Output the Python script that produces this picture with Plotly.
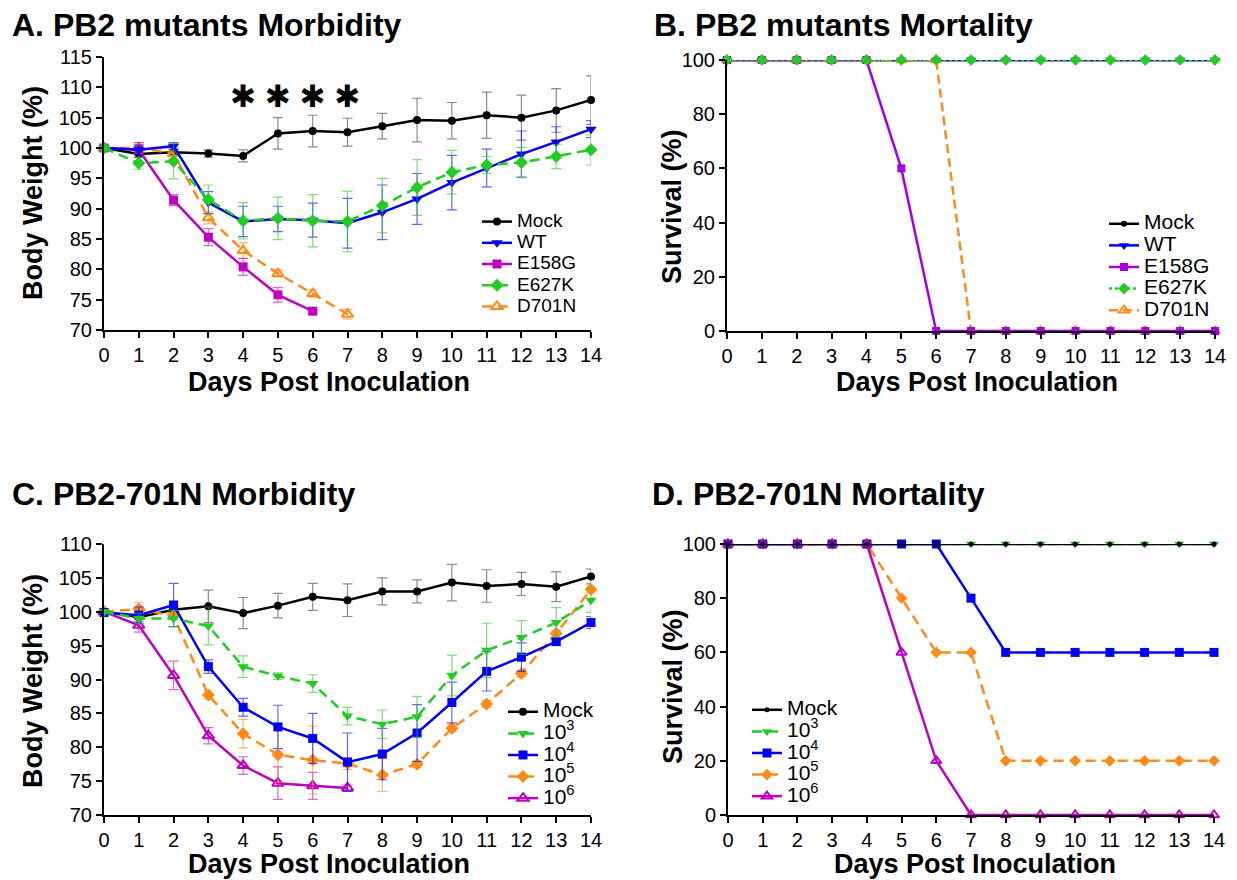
import plotly.graph_objects as go

FONT = "Liberation Sans, Arial, sans-serif"

days = [0, 1, 2, 3, 4, 5, 6, 7, 8, 9, 10, 11, 12, 13, 14]
day_ticks = ["0", "1", "2", "3", "4", "5", "6", "7", "8", "9", "10", "11", "12", "13", "14"]

# ---------- Panel A: PB2 mutants morbidity (body weight %) ----------
a_mock = [100, 99.0, 99.3, 99.1, 98.7, 102.4, 102.8, 102.6, 103.6, 104.6, 104.5, 105.4, 105.0, 106.2, 107.9]
a_mock_err = [0.3, 0.6, 0.5, 0.6, 1.0, 2.6, 2.6, 2.3, 2.1, 3.6, 3.0, 3.8, 3.7, 3.6, 4.0]
a_wt = [100, 99.7, 100.3, 91.0, 87.9, 88.3, 88.1, 87.6, 89.4, 91.6, 94.3, 96.7, 99.0, 101.0, 103.1]
a_wt_err = [0.3, 0.8, 0.6, 1.8, 2.5, 2.1, 2.8, 4.1, 4.5, 4.2, 4.5, 3.1, 3.8, 2.5, 1.4]
a_e158g = [100, 99.7, 91.4, 85.3, 80.4, 75.8, 73.1]
a_e158g_err = [0.3, 1.2, 0.9, 1.4, 1.4, 1.2, 0.3]
a_e627k = [100, 97.5, 97.8, 91.5, 88.0, 88.4, 88.0, 87.9, 90.5, 93.5, 96.0, 97.2, 97.6, 98.6, 99.7]
a_e627k_err = [0.3, 1.0, 2.9, 2.4, 3.0, 3.5, 4.3, 5.0, 4.5, 4.6, 3.6, 1.4, 2.5, 2.0, 2.5]
a_d701n = [100, 100.0, 99.1, 88.5, 83.1, 79.3, 76.0, 72.6]
a_d701n_err = [0.3, 0.9, 0.9, 1.0, 1.3, 0.6, 0.6, 0.8]
star_days = [4, 5, 6, 7]
star_level = [108, 108, 108, 108]

# ---------- Panel B: PB2 mutants mortality (survival %) ----------
b_mock = [100, 100, 100, 100, 100, 100, 100, 100, 100, 100, 100, 100, 100, 100, 100]
b_wt = [100, 100, 100, 100, 100, 100, 100, 100, 100, 100, 100, 100, 100, 100, 100]
b_e158g = [100, 100, 100, 100, 100, 60, 0, 0, 0, 0, 0, 0, 0, 0, 0]
b_e627k = [100, 100, 100, 100, 100, 100, 100, 100, 100, 100, 100, 100, 100, 100, 100]
b_d701n = [100, 100, 100, 100, 100, 100, 100, 0, 0, 0, 0, 0, 0, 0, 0]

# ---------- Panel C: PB2-701N morbidity (body weight %) ----------
c_mock = [100, 99.2, 100.3, 100.8, 99.8, 100.9, 102.2, 101.7, 103.0, 103.0, 104.3, 103.8, 104.1, 103.7, 105.2]
c_mock_err = [0.3, 0.6, 0.5, 2.4, 2.3, 1.8, 2.0, 2.4, 2.0, 1.7, 2.7, 2.4, 1.7, 2.2, 1.1]
c_1e3 = [100, 99.0, 99.0, 97.9, 91.9, 90.5, 89.4, 84.6, 83.4, 84.5, 90.6, 94.3, 96.2, 98.4, 101.7]
c_1e3_err = [0.3, 0.8, 1.2, 2.8, 1.6, 0.5, 1.3, 1.3, 2.1, 3.0, 3.0, 4.0, 2.5, 2.2, 1.8]
c_1e4 = [99.9, 99.5, 101.0, 91.9, 85.9, 83.0, 81.3, 77.8, 79.0, 82.1, 86.6, 91.2, 93.3, 95.6, 98.4]
c_1e4_err = [0.3, 1.2, 3.2, 1.0, 1.3, 3.2, 3.7, 4.3, 3.8, 4.2, 3.0, 2.9, 2.1, 0.5, 0.9]
c_1e5 = [100, 100.4, 99.4, 87.7, 82.0, 78.9, 78.1, 77.6, 75.9, 77.5, 82.8, 86.4, 90.9, 96.8, 103.3]
c_1e5_err = [0.3, 1.0, 0.5, 0.6, 2.1, 4.1, 5.0, 0.9, 2.4, 0.5, 0.5, 0.5, 0.5, 0.5, 0.5]
c_1e6 = [100, 98.0, 90.6, 81.7, 77.3, 74.7, 74.3, 74.0]
c_1e6_err = [0.3, 1.0, 2.1, 1.2, 1.3, 2.4, 2.0, 0.4]

# ---------- Panel D: PB2-701N mortality (survival %) ----------
d_mock = [100, 100, 100, 100, 100, 100, 100, 100, 100, 100, 100, 100, 100, 100, 100]
d_1e3 = [100, 100, 100, 100, 100, 100, 100, 100, 100, 100, 100, 100, 100, 100, 100]
d_1e4 = [100, 100, 100, 100, 100, 100, 100, 80, 60, 60, 60, 60, 60, 60, 60]
d_1e5 = [100, 100, 100, 100, 100, 80, 60, 60, 20, 20, 20, 20, 20, 20, 20]
d_1e6 = [100, 100, 100, 100, 100, 60, 20, 0, 0, 0, 0, 0, 0, 0, 0]

BLACK = "#000000"
BLUE = "#0000F5"
MAGENTA = "#C000C0"
VIOLET = "#A400E6"
GREEN = "#22CC22"
ORANGE = "#FF8A1A"


def rgba(hexc, a):
    h = hexc.lstrip("#")
    return "rgba(%d,%d,%d,%.2f)" % (int(h[0:2], 16), int(h[2:4], 16), int(h[4:6], 16), a)


def lab(t, size):
    return '<span style="font-size:%dpx">%s</span>' % (size, t)


fig = go.Figure()


def add(xa, ya, leg, name, y, err, color, symbol, msize, dash, rank, lsize, lw=2.5):
    x = days[: len(y)]
    marker = dict(symbol=symbol, size=msize, color=color)
    if symbol.endswith("open"):
        marker["line"] = dict(color=color, width=2)
    tr = go.Scatter(
        x=x, y=y, mode="lines+markers", name=lab(name, lsize),
        line=dict(color=color, width=lw, dash=dash),
        marker=marker, xaxis=xa, yaxis=ya, legend=leg, legendrank=rank,
        cliponaxis=False,
    )
    if err is not None:
        tr.error_y = dict(type="data", array=err, visible=True,
                          color=rgba(color if color != BLACK else "#404040", 0.6),
                          thickness=1.2, width=5)
    fig.add_trace(tr)


LA, LB, LC, LD = 19, 21, 21, 21

# Panel A
add("x", "y", "legend", "Mock", a_mock, a_mock_err, BLACK, "circle", 8, "solid", 1, LA)
add("x", "y", "legend", "D701N", a_d701n, a_d701n_err, ORANGE, "triangle-up-open", 10, "10px,6px", 5, LA)
add("x", "y", "legend", "E158G", a_e158g, a_e158g_err, MAGENTA, "square", 9, "solid", 3, LA)
add("x", "y", "legend", "WT", a_wt, a_wt_err, BLUE, "triangle-down", 10, "solid", 2, LA)
add("x", "y", "legend", "E627K", a_e627k, a_e627k_err, GREEN, "diamond", 10, "10px,6px", 4, LA)
fig.add_trace(go.Scatter(x=star_days, y=star_level, mode="text", text=["✱"] * len(star_days),
                         textfont=dict(size=31, color="black", family="DejaVu Sans"),
                         xaxis="x", yaxis="y", showlegend=False, cliponaxis=False))

# Panel B
add("x2", "y2", "legend2", "Mock", b_mock, None, BLACK, "circle", 6, "solid", 1, LB)
add("x2", "y2", "legend2", "WT", b_wt, None, BLUE, "triangle-down", 9, "solid", 2, LB)
add("x2", "y2", "legend2", "D701N", b_d701n, None, ORANGE, "triangle-up-open", 9, "9px,5px", 5, LB)
add("x2", "y2", "legend2", "E158G", b_e158g, None, VIOLET, "square", 8, "solid", 3, LB)
add("x2", "y2", "legend2", "E627K", b_e627k, None, GREEN, "diamond", 9, "dot", 4, LB)

# Panel C
add("x3", "y3", "legend3", "Mock", c_mock, c_mock_err, BLACK, "circle", 8, "solid", 1, LC)
add("x3", "y3", "legend3", "10<sup>6</sup>", c_1e6, c_1e6_err, MAGENTA, "triangle-up-open", 10, "solid", 5, LC)
add("x3", "y3", "legend3", "10<sup>5</sup>", c_1e5, c_1e5_err, ORANGE, "diamond", 10, "10px,6px", 4, LC)
add("x3", "y3", "legend3", "10<sup>4</sup>", c_1e4, c_1e4_err, BLUE, "square", 9, "solid", 3, LC)
add("x3", "y3", "legend3", "10<sup>3</sup>", c_1e3, c_1e3_err, GREEN, "triangle-down", 10, "10px,6px", 2, LC)

# Panel D
add("x4", "y4", "legend4", "10<sup>3</sup>", d_1e3, None, GREEN, "triangle-down", 9, "10px,6px", 2, LD)
add("x4", "y4", "legend4", "10<sup>5</sup>", d_1e5, None, ORANGE, "diamond", 9, "10px,6px", 4, LD)
add("x4", "y4", "legend4", "10<sup>4</sup>", d_1e4, None, BLUE, "square", 9, "solid", 3, LD)
add("x4", "y4", "legend4", "10<sup>6</sup>", d_1e6, None, MAGENTA, "triangle-up-open", 9, "solid", 5, LD)
add("x4", "y4", "legend4", "Mock", d_mock, None, BLACK, "circle", 5, "solid", 1, LD)

W, H = 1237, 880


def px(v):
    return v / W


def py(v):
    return 1 - v / H


axis_common = dict(showline=True, linecolor="black", linewidth=2, ticks="outside", ticklen=6, tickwidth=2,
                   tickcolor="black", showgrid=False, zeroline=False, automargin=False,
                   tickfont=dict(family=FONT, size=20, color="black"))


def xaxis(dom, anchor):
    return dict(axis_common, domain=dom, anchor=anchor, range=[0, 14], tickmode="array", tickvals=days,
                ticktext=day_ticks)


def yaxis(dom, anchor, rng, dtick):
    return dict(axis_common, domain=dom, anchor=anchor, range=rng, dtick=dtick, tick0=rng[0])


legend_common = dict(xanchor="left", yanchor="top", bgcolor="rgba(0,0,0,0)", tracegroupgap=0,
                     traceorder="normal", itemclick=False, itemdoubleclick=False)

fig.update_layout(
    width=W, height=H, autosize=False,
    margin=dict(l=0, r=0, t=0, b=0, autoexpand=False),
    paper_bgcolor="white", plot_bgcolor="white",
    font=dict(family=FONT, color="black"),
    xaxis=xaxis([px(104), px(591)], "y"),
    yaxis=yaxis([py(330), py(57)], "x", [70, 115], 5),
    xaxis2=xaxis([px(727), px(1215)], "y2"),
    yaxis2=yaxis([py(331), py(60)], "x2", [0, 100], 20),
    xaxis3=xaxis([px(104), px(591)], "y3"),
    yaxis3=yaxis([py(815), py(544)], "x3", [70, 110], 5),
    xaxis4=xaxis([px(728), px(1214)], "y4"),
    yaxis4=yaxis([py(815), py(544)], "x4", [0, 100], 20),
    legend=dict(legend_common, x=px(477), y=py(206), font=dict(family=FONT, size=14, color="black")),
    legend2=dict(legend_common, x=px(1104), y=py(208), font=dict(family=FONT, size=14.3, color="black")),
    legend3=dict(legend_common, x=px(503), y=py(696), font=dict(family=FONT, size=14.3, color="black")),
    legend4=dict(legend_common, x=px(747), y=py(694), font=dict(family=FONT, size=14.3, color="black")),
    showlegend=True,
)

# panel titles
titles = [
    ("A. PB2 mutants Morbidity", 10, 25),
    ("B. PB2 mutants Mortality", 652, 25),
    ("C. PB2-701N Morbidity", 10, 494),
    ("D. PB2-701N Mortality", 650, 494),
]
for t, x0, y0 in titles:
    fig.add_annotation(text="<b>%s</b>" % t, xref="paper", yref="paper", x=px(x0), y=py(y0),
                       xanchor="left", yanchor="middle", showarrow=False,
                       font=dict(family=FONT, size=32, color="black"))

# axis titles
x_titles = [(329, 382), (977, 382), (329, 864), (975, 864)]
for cx, cy in x_titles:
    fig.add_annotation(text="<b>Days Post Inoculation</b>", xref="paper", yref="paper", x=px(cx), y=py(cy),
                       xanchor="center", yanchor="middle", showarrow=False,
                       font=dict(family=FONT, size=27, color="black"))

y_titles = [("Body Weight (%)", 33, 193), ("Survival (%)", 672, 207),
            ("Body Weight (%)", 33, 681), ("Survival (%)", 673, 687)]
for t, cx, cy in y_titles:
    fig.add_annotation(text="<b>%s</b>" % t, xref="paper", yref="paper", x=px(cx), y=py(cy),
                       xanchor="center", yanchor="middle", textangle=-90, showarrow=False,
                       font=dict(family=FONT, size=27, color="black"))

# the page's default 8px body margin would shift the figure; remove it
fig.write_html("out.html", config={"displayModeBar": False},
               post_script="document.body.style.margin='0px';document.body.style.overflow='hidden';")
